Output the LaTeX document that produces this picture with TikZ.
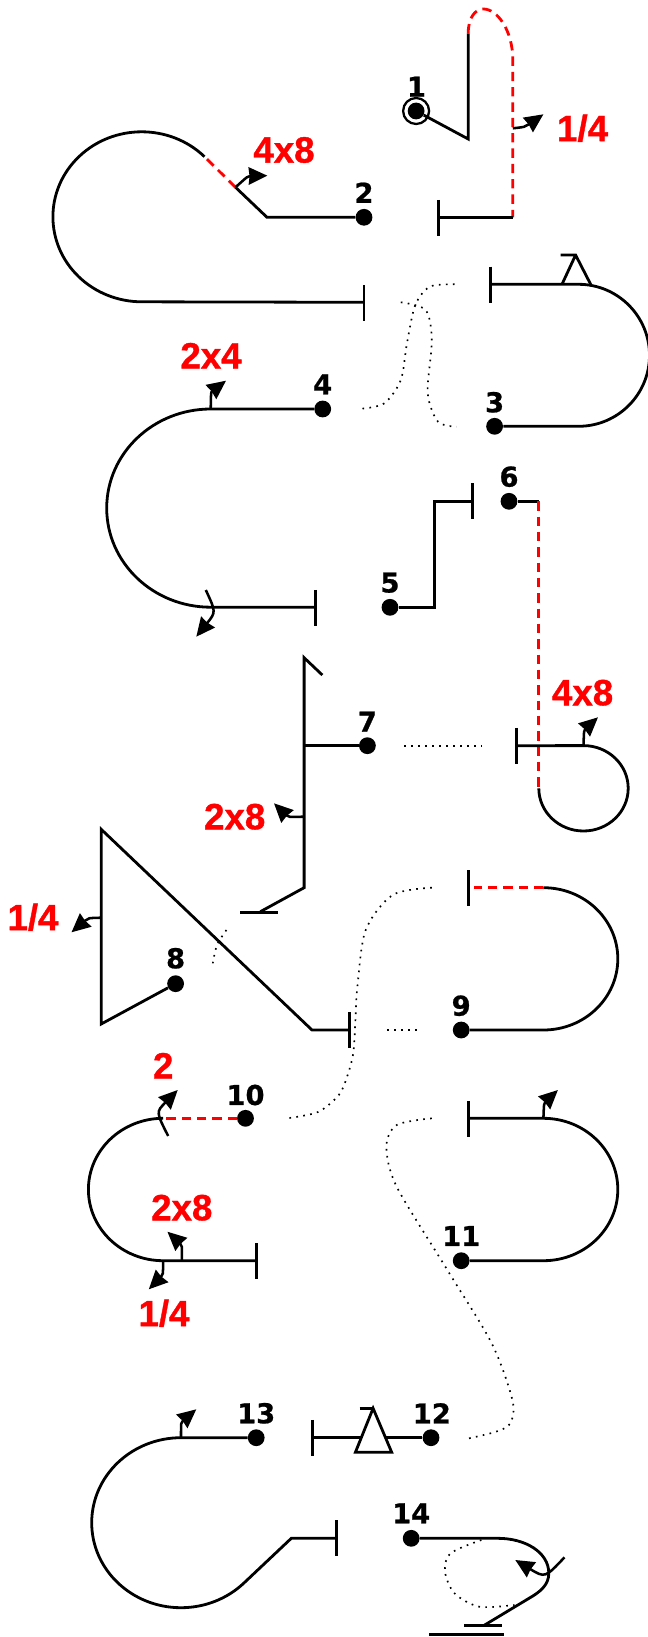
\documentclass[tikz,border=0pt]{standalone}
\usepackage{fontspec}
\setmainfont[BoldFeatures={FakeBold=0.8}]{DejaVu Sans}
\newfontfamily\redfont[BoldFeatures={FakeBold=1.0}]{Liberation Sans}
\usetikzlibrary{arrows.meta}
\tikzset{
  trk/.style={line width=2.1pt,black,line join=miter},
  reddash/.style={line width=2.1pt,red,dash pattern=on 7pt off 4.5pt},
  dotted line/.style={line width=1.25pt,black,dash pattern=on 1.25pt off 4pt},
  stationdot/.style={circle,fill=black,inner sep=0pt,minimum size=12.6pt},
  blab/.style={font=\bfseries\fontsize{20.5}{20.5}\selectfont,inner sep=0pt},
  rlab/.style={font=\redfont\bfseries\fontsize{27.5}{27.5}\selectfont,text=red,inner sep=0pt},
  turn/.style={line width=1.9pt,black,-{Stealth[length=14pt,width=13pt,inset=0.6pt]}},
}
\newcommand{\stopbar}[2]{\draw[trk] (#1,#2-18) -- (#1,#2+18);}
\begin{document}
\begin{tikzpicture}[x=0.75pt,y=-0.75pt]
\useasboundingbox (0,0) rectangle (648,1637);
% station dots
\node[stationdot] (d1) at (416.1,111) {};
\node[stationdot] (d2) at (364,217.3) {};
\node[stationdot] (d3) at (494.6,426.3) {};
\node[stationdot] (d4) at (322.7,409) {};
\node[stationdot] (d5) at (390,607.3) {};
\node[stationdot] (d6) at (509,501.3) {};
\node[stationdot] (d7) at (367.4,745.7) {};
\node[stationdot] (d8) at (175.6,983.7) {};
\node[stationdot] (d9) at (461.2,1030) {};
\node[stationdot] (d10) at (245.5,1118.3) {};
\node[stationdot] (d11) at (461.2,1260.7) {};
\node[stationdot] (d12) at (431,1437.7) {};
\node[stationdot] (d13) at (256.2,1437.7) {};
\node[stationdot] (d14) at (411.2,1538.3) {};
\node[draw,circle,line width=1.7pt,minimum size=19.5pt,inner sep=0pt] (ring) at (d1) {};
% number labels
\node[blab] (n1) at (416.5,86.7) {1};
\node[blab] (n2) at (364,192.7) {2};
\node[blab] (n3) at (494.6,402.3) {3};
\node[blab] (n4) at (322.7,384.3) {4};
\node[blab] (n5) at (390,582.7) {5};
\node[blab] (n6) at (509,476.7) {6};
\node[blab] (n7) at (367.4,721.7) {7};
\node[blab] (n8) at (175.6,958.3) {8};
\node[blab] (n9) at (461.2,1005.7) {9};
\node[blab] (n10) at (245.5,1095) {10};
\node[blab] (n11) at (461.2,1236) {11};
\node[blab] (n12) at (431.8,1413.3) {12};
\node[blab] (n13) at (256.2,1413.3) {13};
\node[blab] (n14) at (411.2,1513.3) {14};
% red labels
\node[rlab] at (582.6,128.3) {1/4};
\node[rlab] at (284,150) {4x8};
\node[rlab] at (211,355.7) {2x4};
\node[rlab] at (582.6,692.7) {4x8};
\node[rlab] at (234.7,816.7) {2x8};
\node[rlab] at (33,917.3) {1/4};
\node[rlab] at (163.2,1065.7) {2};
\node[rlab] at (181.8,1207.7) {2x8};
\node[rlab] at (164,1313.3) {1/4};
% track 1
\draw[trk] (d1) -- (468.2,139) -- (468.2,33.3);
\draw[reddash] (468.2,33.3) .. controls (468.2,18) and (475,9) .. (483.5,9)
  .. controls (497,9) and (512.8,30) .. (512.8,60) -- (512.8,217.3);
\draw[trk] (512.8,217.3) -- (438.4,217.3);
\stopbar{438.4}{218}
% track 2
\draw[trk] (d2) -- (267,217.3) -- (235.5,187.3);
\draw[reddash] (235.5,187.3) -- (204.5,156.7);
\draw[trk] (204.5,156.7) arc[start angle=-45,end angle=-270,x radius=88.8,y radius=85] -- (364,302.3);
\stopbar{364}{303}
% track 3
\draw[trk] (d3) -- (578.5,426.3) arc[start angle=90,end angle=-90,x radius=71,y radius=71] -- (490.5,284.3);
\stopbar{490.5}{284.7}
\draw[trk] (560.7,255) -- (575.6,255) -- (591,285) (575.6,255) -- (562,284.3);
% track 4
\draw[trk] (d4) -- (210.7,409) arc[start angle=-90,end angle=-270,x radius=104,y radius=99.1] -- (315.3,607.3);
\stopbar{315.3}{607.8}
% track 5
\draw[trk] (d5) -- (434.3,607.3) -- (434.3,501.3) -- (472.3,501.3);
\stopbar{472.3}{501}
% track 6
\draw[trk] (d6) -- (538.8,501.3);
\draw[reddash] (538.8,501.3) -- (538.8,788.3);
\draw[trk] (538.8,788.3) arc[start angle=180,end angle=-90,x radius=44.7,y radius=42.7] -- (516.5,745.7);
\stopbar{516.5}{745.8}
% track 7
\draw[trk] (d7) -- (304.1,745.7);
\draw[trk] (322.3,675) -- (304.1,657.7) -- (304.1,887.7) -- (260.3,911.7);
\draw[trk] (240,912.3) -- (277.7,912.3);
% track 8
\draw[trk] (d8) -- (101.2,1024) -- (101.2,829.3) -- (312,1030) -- (349.6,1030);
\stopbar{349.6}{1030}
% track 9
\draw[trk] (d9) -- (543.4,1030) arc[start angle=90,end angle=-90,x radius=74.4,y radius=71.15];
\draw[reddash] (543.4,887.7) -- (474.4,887.7);
\stopbar{468.2}{888}
% track 10
\draw[reddash] (d10) -- (163.2,1118.3);
\draw[trk] (163.2,1118.3) arc[start angle=-90,end angle=-270,x radius=74.8,y radius=71.2] -- (256.6,1260.7);
\stopbar{256.6}{1261}
% track 11
\draw[trk] (d11) -- (543.4,1260.7) arc[start angle=90,end angle=-90,x radius=74.4,y radius=71.2] -- (468.2,1118.3);
\stopbar{468.2}{1118.8}
% track 12
\draw[trk] (d12) -- (312.8,1437.7);
\stopbar{312.8}{1437.8}
\draw[trk,fill=white] (373.1,1408.3) -- (355.4,1452.3) -- (391.7,1452.3) -- cycle;
\draw[trk] (359.5,1408.3) -- (373.1,1408.3);
% track 13
\draw[trk] (d13) -- (181,1437.7) arc[start angle=-90,end angle=-270,x radius=89.3,y radius=85]
  arc[start angle=90,end angle=45,x radius=89.3,y radius=85] -- (291.3,1538.3) -- (336.8,1538.3);
\stopbar{336.8}{1538}
% track 14
\draw[trk] (d14) -- (497.9,1538.3) .. controls (525,1538.3) and (548.8,1552) .. (548.8,1573.3)
  .. controls (548.8,1585) and (540,1592) .. (529,1598.3) -- (483.5,1625.7);
\draw[trk] (464,1625.7) -- (502,1625.7);
\draw[trk] (429,1634.3) -- (504,1634.3);
% dotted links
\draw[dotted line] plot[smooth] coordinates {(454.5,284.3) (429.8,286.7) (415.3,305) (407,343) (400.8,380) (384.3,403.3) (361.6,408.7)};
\draw[dotted line] plot[smooth] coordinates {(400.8,302.3) (425.6,310) (431.8,340) (427.7,393) (438,421.7) (456.6,426.7)};
\draw[dotted line] (404,745.7) -- (481.4,745.7);
\draw[dotted line] plot[smooth] coordinates {(226.4,930) (217,945) (212.8,963.3)};
\draw[dotted line] plot[smooth] coordinates {(431.8,887.7) (392.6,895) (365.7,930) (357.4,986.7) (355.4,1020) (353.3,1053) (347,1077) (338.8,1095) (318,1112) (287.2,1118.3)};
\draw[dotted line] (387.2,1030) -- (419.4,1030);
\draw[dotted line] plot[smooth] coordinates {(431.8,1118.3) (396.7,1125) (386.4,1146.7) (396.7,1186.7) (446.3,1268.3) (491.7,1343.3) (512.4,1400) (510.3,1423.3) (495.9,1431.7) (469,1438.3)};
\draw[dotted line] plot[smooth] coordinates {(481.4,1540) (450.4,1553.3) (445,1571.7) (454.5,1593.3) (479.3,1606.7) (514.5,1605)};
% turn arrows
\draw[turn] (512.8,128.3) .. controls (525,127) .. (543.4,114.3);
\draw[turn] (235.5,187.3) .. controls (248,176) .. (267.4,175.7);
\draw[turn] (210.7,409) .. controls (211,392) .. (226,380.7);
\draw[turn] (205.8,590) .. controls (216,612) .. (196.3,636.7);
\draw[turn] (583.5,745.7) .. controls (584,730) .. (598,717.3);
\draw[turn] (304.1,816.7) .. controls (288,817) .. (274,803.3);
\draw[turn] (101.2,917.7) .. controls (88,918) .. (71.5,932.3);
\draw[turn] (168.2,1136) .. controls (156,1112) .. (177.7,1090);
\draw[turn] (181.8,1260) .. controls (182,1245) .. (167.4,1231.7);
\draw[turn] (163.2,1260) .. controls (163,1275) .. (148.8,1289.3);
\draw[turn] (543.4,1118.3) .. controls (544,1103) .. (557.9,1090);
\draw[turn] (181,1437.7) .. controls (181,1422) .. (196.3,1409.3);
\draw[turn] (564.5,1557.3) .. controls (545,1578) .. (515.3,1560);
\end{tikzpicture}
\end{document}
